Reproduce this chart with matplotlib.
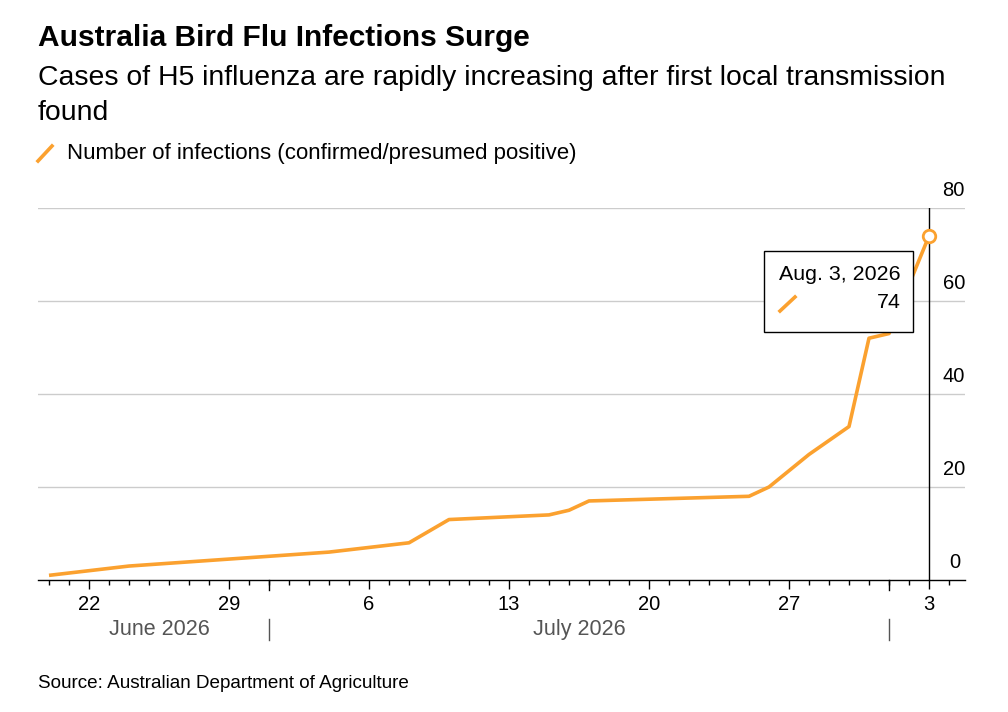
import numpy as np
import matplotlib
matplotlib.use("Agg")
import matplotlib.pyplot as plt
import matplotlib.dates as mdates
from matplotlib.lines import Line2D
from matplotlib.patches import Rectangle
import matplotlib.transforms as mtransforms

plt.rcParams['font.family'] = ['Liberation Sans', 'DejaVu Sans']

# data
dates = np.array(["2026-06-20", "2026-06-24", "2026-07-04", "2026-07-08",
                  "2026-07-10", "2026-07-15", "2026-07-16", "2026-07-17",
                  "2026-07-25", "2026-07-26", "2026-07-28", "2026-07-30",
                  "2026-07-31", "2026-08-01", "2026-08-03"], dtype="datetime64[D]")
cases = [1, 3, 6, 8, 13, 14, 15, 17, 18, 20, 27, 33, 52, 53, 74]
y_ticks = [0, 20, 40, 60, 80]
month_starts = np.array(["2026-07-01", "2026-08-01"], dtype="datetime64[D]")
month_labels = ["June 2026", "July 2026"]

orange = '#FBA12F'
W, H = 1008, 712

def px(x, y):
    return x / W, 1 - y / H

fig = plt.figure(figsize=(W / 100, H / 100), dpi=100)
ax = fig.add_axes([38 / W, 1 - 580 / H, (965 - 38) / W, (580 - 208) / H])

xd = mdates.date2num(dates)
ax.plot(xd, cases, color=orange, lw=2.6, solid_capstyle='butt', zorder=3)
ax.plot(xd[-1], cases[-1], 'o', ms=9, mfc='white', mec=orange, mew=2, zorder=4, clip_on=False)

ax.set_xlim(xd[-1] - (929 - 38) / 20, xd[-1] + (965 - 929) / 20)
ax.set_ylim(0, 80)

for s in ['top', 'left', 'right']:
    ax.spines[s].set_visible(False)
ax.spines['bottom'].set_color('black')
ax.spines['bottom'].set_linewidth(1)

for v in y_ticks[1:]:
    ax.axhline(v, color='#cccccc', lw=1, zorder=1)
    ax.annotate(str(v), xy=(1, v), xycoords=('axes fraction', 'data'),
                xytext=(0, 6), textcoords='offset points', ha='right', va='bottom', fontsize=14.5)
ax.annotate('0', xy=(0.995, 0), xycoords=('axes fraction', 'data'),
            xytext=(0, 6), textcoords='offset points', ha='right', va='bottom', fontsize=14.5)
ax.axvline(xd[-1], color='black', lw=1, zorder=2)
ax.set_yticks([])

ax.xaxis.set_major_locator(mdates.WeekdayLocator(byweekday=mdates.MO))
ax.xaxis.set_major_formatter(plt.FuncFormatter(lambda v, p: str(mdates.num2date(v).day)))
ax.xaxis.set_minor_locator(mdates.DayLocator())
ax.tick_params(axis='x', which='major', length=6.5, width=1, pad=4, labelsize=14.5, color='black')
ax.tick_params(axis='x', which='minor', length=3.6, width=1, color='black')

trans = mtransforms.blended_transform_factory(ax.transData, ax.transAxes)
ms = mdates.date2num(month_starts)
for m in ms:
    ax.plot([m, m], [0, -0.026], color='black', lw=1, transform=trans, clip_on=False)
    ax.plot([m, m], [-0.105, -0.16], color='#555555', lw=1, transform=trans, clip_on=False)
edges = [xd[0], ms[0], ms[1]]
for i, lab in enumerate(month_labels):
    ax.text((edges[i] + edges[i + 1]) / 2, -0.132, lab, transform=trans, ha='center', va='center',
            fontsize=15.5, color='#555555')

# header
fig.text(*px(38, 38), "Australia Bird Flu Infections Surge", fontsize=21.5, fontweight='bold', va='center')
fig.text(*px(38, 78), "Cases of H5 influenza are rapidly increasing after first local transmission",
         fontsize=20.4, va='center')
fig.text(*px(38, 113), "found", fontsize=20.4, va='center')
fig.add_artist(Line2D([38 / W, 52 / W], [1 - 161 / H, 1 - 146 / H], color=orange, lw=2.6,
                      transform=fig.transFigure))
fig.text(*px(67, 153), "Number of infections (confirmed/presumed positive)", fontsize=16, va='center')
fig.text(*px(38, 684), "Source: Australian Department of Agriculture", fontsize=13.6, va='center')

# tooltip
fig.add_artist(Rectangle(px(764, 332), (913 - 764) / W, (332 - 251) / H, transform=fig.transFigure,
                         facecolor='white', edgecolor='black', lw=1, zorder=5))
last = mdates.num2date(xd[-1])
fig.text(*px(901, 275), last.strftime("%b. ") + str(last.day) + last.strftime(", %Y"),
         fontsize=15.4, ha='right', va='center', zorder=6)
fig.add_artist(Line2D([780 / W, 795 / W], [1 - 311 / H, 1 - 297 / H], color=orange, lw=2.6,
                      transform=fig.transFigure, zorder=6))
fig.text(*px(901, 303), str(cases[-1]), fontsize=15.4, ha='right', va='center', zorder=6)

fig.savefig("out.png", dpi=100)
